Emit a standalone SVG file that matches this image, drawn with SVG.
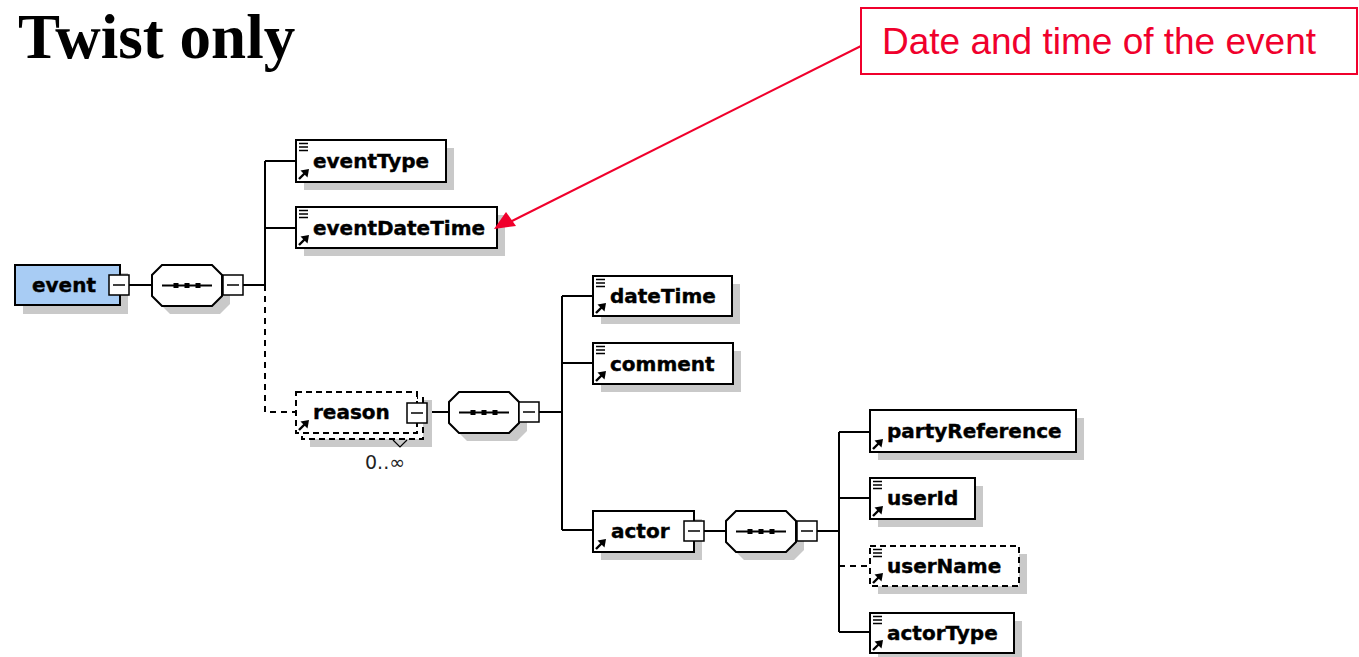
<svg xmlns="http://www.w3.org/2000/svg" xmlns:xlink="http://www.w3.org/1999/xlink" width="1359" height="657" viewBox="0 0 1359 657">
<style>
.bx{fill:#fff;stroke:#000;stroke-width:2}
.dbx{fill:#fff;stroke:#000;stroke-width:2;stroke-dasharray:6 4}
.sh{fill:#c9c9c9}
.ln{stroke:#000;stroke-width:2;fill:none}
.dl{stroke:#000;stroke-width:2;fill:none;stroke-dasharray:6 5}
.lbl{font-family:"DejaVu Sans",sans-serif;font-weight:bold;font-size:20px;fill:#000;stroke:#000;stroke-width:0.4}
.red{stroke:#f0002c;fill:none;stroke-width:2}
</style>
<defs>
<g id="lines"><path d="M3 3.5h9M3 7h9M3 10.5h9" stroke="#000" stroke-width="1.6"/></g>
<g id="arr"><path d="M0 0l7 -7" stroke="#000" stroke-width="2.4"/><path d="M10 -10l-8.5 1.5l7 7z" fill="#000"/></g>
<g id="minus"><rect x="0" y="0" width="20" height="20" fill="#fff" stroke="#000" stroke-width="1.5"/><path d="M4 10h12" stroke="#000" stroke-width="1.5"/></g>
<g id="seq"><path d="M10 0H60L70 10V31L60 41H10L0 31V10Z" fill="#fff" stroke="#000" stroke-width="2"/><path d="M10 20.5H60" stroke="#000" stroke-width="2"/><rect x="21.5" y="18" width="5" height="5"/><rect x="32.5" y="18" width="5" height="5"/><rect x="43.5" y="18" width="5" height="5"/></g>
<path id="seqsh" d="M10 0H60L70 10V31L60 41H10L0 31V10Z"/>
</defs>
<rect width="1359" height="657" fill="#fff"/>
<text x="18" y="58" font-family="'Liberation Serif',serif" font-weight="bold" font-size="63">Twist only</text>

<g id="connectors">
<path class="ln" d="M129 285H152M243 285H265M265 161V285M265 161H296M265 228H296"/>
<path class="dl" d="M265 285V412H296"/>
<path class="ln" d="M427 412H449M539 412H562M562 296V530M562 296H593M562 363H593M562 530H593"/>
<path class="ln" d="M704 531H726M817 531H839M839 432V632M839 432H870M839 498H870M839 632H870"/>
<path class="dl" d="M839 566H870"/>
</g>

<g id="event">
<rect class="sh" x="23" y="273" width="105" height="41"/>
<rect x="15" y="265" width="105" height="40" fill="#a8ccf4" stroke="#000" stroke-width="2"/>
<text class="lbl" x="32" y="292">event</text>
<use xlink:href="#minus" x="109" y="275"/>
</g>

<g id="seq1">
<use xlink:href="#seqsh" x="160" y="273" class="sh"/>
<use xlink:href="#seq" x="152" y="265"/>
<use xlink:href="#minus" x="223" y="275"/>
</g>

<g id="eventType">
<rect class="sh" x="304" y="148" width="150" height="42"/>
<rect class="bx" x="296" y="140" width="150" height="42"/>
<use xlink:href="#lines" x="296" y="140"/>
<use xlink:href="#arr" x="299" y="179"/>
<text class="lbl" x="313" y="168">eventType</text>
</g>

<g id="eventDateTime">
<rect class="sh" x="304" y="215" width="201" height="41"/>
<rect class="bx" x="296" y="207" width="201" height="41"/>
<use xlink:href="#lines" x="296" y="207"/>
<use xlink:href="#arr" x="299" y="245"/>
<text class="lbl" x="313" y="235">eventDateTime</text>
</g>

<g id="reason">
<rect class="sh" x="310" y="400" width="122" height="47"/>
<rect class="dbx" x="302" y="398" width="121" height="41"/>
<rect class="dbx" x="296" y="392" width="121" height="41"/>
<use xlink:href="#arr" x="299" y="430"/>
<text class="lbl" x="313" y="419">reason</text>
<use xlink:href="#minus" x="407" y="403"/>
<path d="M393 440L400 447L407 440" stroke="#000" stroke-width="1.2" fill="none"/>
<text x="365" y="469" font-family="'DejaVu Sans',sans-serif" font-size="19" fill="#222">0..∞</text>
</g>

<g id="seq2">
<use xlink:href="#seqsh" x="457" y="400" class="sh"/>
<use xlink:href="#seq" x="449" y="392"/>
<use xlink:href="#minus" x="519" y="402"/>
</g>

<g id="dateTime">
<rect class="sh" x="601" y="284" width="139" height="40"/>
<rect class="bx" x="593" y="276" width="139" height="40"/>
<use xlink:href="#lines" x="593" y="276"/>
<use xlink:href="#arr" x="596" y="313"/>
<text class="lbl" x="610" y="303">dateTime</text>
</g>

<g id="comment">
<rect class="sh" x="601" y="351" width="140" height="41"/>
<rect class="bx" x="593" y="343" width="140" height="41"/>
<use xlink:href="#lines" x="593" y="343"/>
<use xlink:href="#arr" x="596" y="381"/>
<text class="lbl" x="610" y="371">comment</text>
</g>

<g id="actor">
<rect class="sh" x="601" y="519" width="101" height="41"/>
<rect class="bx" x="593" y="511" width="101" height="41"/>
<use xlink:href="#arr" x="596" y="549"/>
<text class="lbl" x="611" y="538">actor</text>
<use xlink:href="#minus" x="684" y="521"/>
</g>

<g id="seq3">
<use xlink:href="#seqsh" x="734" y="519" class="sh"/>
<use xlink:href="#seq" x="726" y="511"/>
<use xlink:href="#minus" x="797" y="521"/>
</g>

<g id="partyReference">
<rect class="sh" x="878" y="418" width="206" height="42"/>
<rect class="bx" x="870" y="410" width="206" height="42"/>
<use xlink:href="#arr" x="873" y="449"/>
<text class="lbl" x="887" y="438">partyReference</text>
</g>

<g id="userId">
<rect class="sh" x="878" y="486" width="105" height="41"/>
<rect class="bx" x="870" y="478" width="105" height="41"/>
<use xlink:href="#lines" x="870" y="478"/>
<use xlink:href="#arr" x="873" y="516"/>
<text class="lbl" x="887" y="505">userId</text>
</g>

<g id="userName">
<rect class="sh" x="878" y="554" width="149" height="40"/>
<rect class="dbx" x="870" y="546" width="149" height="40"/>
<use xlink:href="#lines" x="870" y="546"/>
<use xlink:href="#arr" x="873" y="583"/>
<text class="lbl" x="887" y="573">userName</text>
</g>

<g id="actorType">
<rect class="sh" x="878" y="621" width="144" height="40"/>
<rect class="bx" x="870" y="613" width="144" height="40"/>
<use xlink:href="#lines" x="870" y="613"/>
<use xlink:href="#arr" x="873" y="650"/>
<text class="lbl" x="887" y="640">actorType</text>
</g>

<g id="callout">
<rect class="red" x="861" y="8" width="496" height="66"/>
<text x="882" y="54" font-family="'Liberation Sans',Arial,sans-serif" font-size="37" fill="#f0002c">Date and time of the event</text>
<path class="red" d="M861 46L510 222"/>
<path d="M494 229L506 212L516 226Z" fill="#f0002c"/>
</g>
</svg>
